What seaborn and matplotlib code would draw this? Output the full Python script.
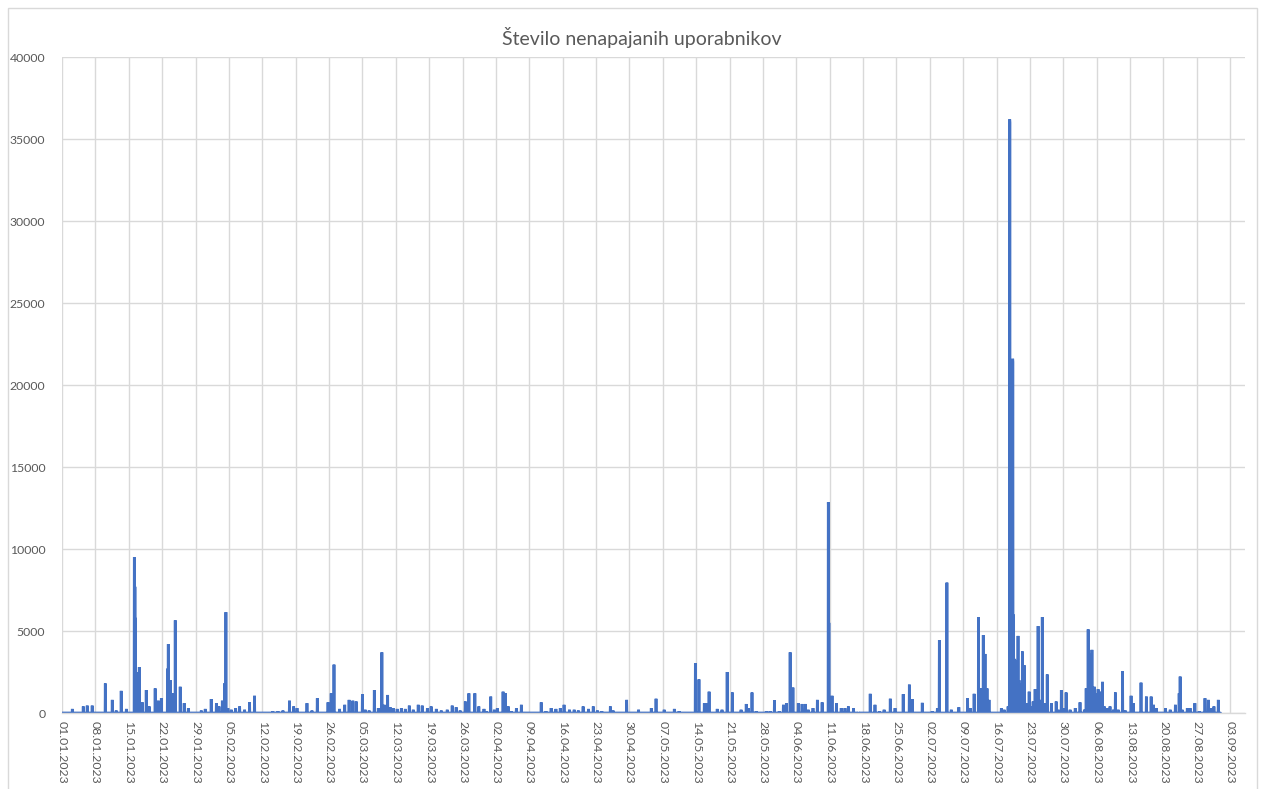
import matplotlib
matplotlib.use("Agg")
import matplotlib.pyplot as plt
import matplotlib.dates as mdates
from matplotlib.patches import Rectangle
import numpy as np
import pandas as pd
import seaborn as sns

# Hourly count of customers without power supply; hours not listed are zero.
event_times = [
    # January
    "2023-01-03 04", "2023-01-05 11", "2023-01-06 07", "2023-01-07 08", "2023-01-10 02",
    "2023-01-11 13", "2023-01-12 09", "2023-01-13 10", "2023-01-14 12",
    "2023-01-16 04", "2023-01-16 05", "2023-01-16 07", "2023-01-16 09", "2023-01-16 11",
    "2023-01-16 14", "2023-01-17 05", "2023-01-17 20", "2023-01-18 16", "2023-01-19 07",
    "2023-01-20 13", "2023-01-21 05", "2023-01-21 20", "2023-01-23 03", "2023-01-23 07",
    "2023-01-23 17", "2023-01-24 03", "2023-01-24 18", "2023-01-25 19", "2023-01-26 15",
    "2023-01-27 12", "2023-01-30 05", "2023-01-31 01",
    # February
    "2023-02-01 07", "2023-02-02 09", "2023-02-02 22", "2023-02-03 15", "2023-02-04 02",
    "2023-02-04 09", "2023-02-04 19", "2023-02-05 12", "2023-02-06 10", "2023-02-07 06",
    "2023-02-08 07", "2023-02-09 08", "2023-02-10 09", "2023-02-14 05", "2023-02-15 07",
    "2023-02-16 08", "2023-02-17 17", "2023-02-18 14", "2023-02-19 07", "2023-02-21 09",
    "2023-02-22 10", "2023-02-23 13", "2023-02-25 19", "2023-02-26 11", "2023-02-27 01",
    "2023-02-28 05",
    # March
    "2023-03-01 07", "2023-03-02 05", "2023-03-03 00", "2023-03-03 17", "2023-03-05 00",
    "2023-03-05 14", "2023-03-06 10", "2023-03-07 12", "2023-03-08 08", "2023-03-09 02",
    "2023-03-09 14", "2023-03-10 07", "2023-03-10 20", "2023-03-11 12", "2023-03-12 07",
    "2023-03-13 04", "2023-03-14 00", "2023-03-14 20", "2023-03-15 16", "2023-03-16 17",
    "2023-03-17 13", "2023-03-18 15", "2023-03-19 10", "2023-03-20 12", "2023-03-21 13",
    "2023-03-22 19", "2023-03-23 20", "2023-03-24 16", "2023-03-25 12", "2023-03-26 14",
    "2023-03-27 08", "2023-03-28 14", "2023-03-29 10", "2023-03-30 12", "2023-03-31 00",
    "2023-03-31 22",
    # April
    "2023-04-01 16", "2023-04-02 07", "2023-04-03 12", "2023-04-04 00", "2023-04-04 14",
    "2023-04-05 05", "2023-04-06 07", "2023-04-07 08", "2023-04-11 12", "2023-04-12 12",
    "2023-04-13 14", "2023-04-14 14", "2023-04-15 12", "2023-04-16 07", "2023-04-17 10",
    "2023-04-18 10", "2023-04-19 07", "2023-04-20 07", "2023-04-21 10", "2023-04-22 10",
    "2023-04-23 07", "2023-04-24 05", "2023-04-26 00", "2023-04-26 14", "2023-04-29 10",
    # May
    "2023-05-01 22", "2023-05-04 14", "2023-05-05 14", "2023-05-07 07", "2023-05-09 10",
    "2023-05-10 10", "2023-05-13 20", "2023-05-14 14", "2023-05-15 17", "2023-05-16 02",
    "2023-05-16 17", "2023-05-18 10", "2023-05-19 10", "2023-05-20 12", "2023-05-21 14",
    "2023-05-23 10", "2023-05-24 12", "2023-05-24 22", "2023-05-25 17", "2023-05-26 14",
    "2023-05-28 17", "2023-05-29 12", "2023-05-30 10", "2023-05-31 10",
    # June
    "2023-06-01 07", "2023-06-01 22", "2023-06-02 17", "2023-06-03 07", "2023-06-04 10",
    "2023-06-05 05", "2023-06-05 22", "2023-06-06 12", "2023-06-07 12", "2023-06-08 10",
    "2023-06-09 10", "2023-06-10 17", "2023-06-10 18", "2023-06-10 20", "2023-06-11 12",
    "2023-06-12 10", "2023-06-13 10", "2023-06-14 05", "2023-06-14 22", "2023-06-16 00",
    "2023-06-17 00", "2023-06-19 12", "2023-06-20 12", "2023-06-21 10", "2023-06-22 10",
    "2023-06-23 17", "2023-06-24 17", "2023-06-26 10", "2023-06-27 17", "2023-06-28 07",
    "2023-06-30 10",
    # July
    "2023-07-02 12", "2023-07-03 14", "2023-07-04 00", "2023-07-05 14", "2023-07-06 12",
    "2023-07-08 02", "2023-07-09 22", "2023-07-10 12", "2023-07-11 07", "2023-07-12 05",
    "2023-07-12 14", "2023-07-13 05", "2023-07-13 14", "2023-07-14 00", "2023-07-14 10",
    "2023-07-17 00", "2023-07-17 14", "2023-07-18 10", "2023-07-18 17", "2023-07-18 18",
    "2023-07-18 19", "2023-07-18 21", "2023-07-18 22", "2023-07-19 00", "2023-07-19 03",
    "2023-07-19 06", "2023-07-19 09", "2023-07-19 10", "2023-07-19 12", "2023-07-19 14",
    "2023-07-19 16", "2023-07-19 19", "2023-07-19 22", "2023-07-20 01", "2023-07-20 04",
    "2023-07-20 07", "2023-07-20 12", "2023-07-20 17", "2023-07-20 19", "2023-07-21 00",
    "2023-07-21 10", "2023-07-21 15", "2023-07-21 20", "2023-07-22 05", "2023-07-22 20",
    "2023-07-23 05", "2023-07-23 16", "2023-07-24 02", "2023-07-24 17", "2023-07-25 03",
    "2023-07-25 14", "2023-07-26 00", "2023-07-26 15", "2023-07-27 12", "2023-07-28 12",
    "2023-07-28 22", "2023-07-29 14", "2023-07-30 00", "2023-07-30 14", "2023-07-31 10",
    # August
    "2023-08-01 12", "2023-08-02 12", "2023-08-03 10", "2023-08-03 19", "2023-08-04 05",
    "2023-08-04 12", "2023-08-04 17", "2023-08-04 19", "2023-08-05 00", "2023-08-05 12",
    "2023-08-05 22", "2023-08-06 07", "2023-08-06 17", "2023-08-07 05", "2023-08-07 14",
    "2023-08-08 05", "2023-08-08 19", "2023-08-09 12", "2023-08-09 22", "2023-08-10 12",
    "2023-08-11 10", "2023-08-12 00", "2023-08-13 05", "2023-08-13 17", "2023-08-15 07",
    "2023-08-16 10", "2023-08-17 10", "2023-08-17 22", "2023-08-18 12", "2023-08-20 10",
    "2023-08-21 10", "2023-08-22 12", "2023-08-23 07", "2023-08-23 12", "2023-08-23 22",
    "2023-08-25 00", "2023-08-25 14", "2023-08-26 14", "2023-08-27 12", "2023-08-28 17",
    "2023-08-29 10", "2023-08-30 00", "2023-08-30 14", "2023-08-31 12",
]

event_values = [
    # January
    250, 400, 450, 450, 1800,
    800, 150, 1350, 250,
    9500, 9400, 7700, 5800, 1000,
    2500, 2800, 650, 1400, 400,
    1500, 750, 900, 2700, 4200,
    2000, 1200, 5650, 1600, 600,
    300, 150, 250,
    # February
    850, 600, 400, 750, 1800,
    6150, 300, 200, 300, 400,
    200, 650, 1050, 100, 100,
    150, 750, 400, 300, 600,
    150, 900, 650, 1200, 2950,
    250,
    # March
    500, 800, 750, 700, 1150,
    200, 150, 1400, 300, 3700,
    500, 1100, 350, 300, 250,
    300, 250, 450, 200, 500,
    450, 300, 400, 250, 150,
    200, 450, 350, 150, 700,
    1200, 1200, 400, 250, 100,
    1000,
    # April
    200, 300, 1300, 1200, 400,
    100, 300, 500, 650, 100,
    300, 250, 300, 500, 200,
    200, 150, 400, 250, 400,
    150, 100, 400, 150, 800,
    # May
    200, 300, 870, 200, 250,
    100, 3030, 2050, 600, 600,
    1300, 250, 200, 2500, 1250,
    200, 550, 300, 1250, 100,
    100, 100, 780, 100,
    # June
    500, 600, 3700, 1550, 600,
    550, 550, 200, 300, 800,
    650, 12850, 12500, 5500, 1050,
    600, 300, 300, 400, 300,
    50, 1170, 500, 100, 200,
    870, 300, 1150, 1730, 850,
    620,
    # July
    100, 300, 4450, 7950, 200,
    350, 900, 300, 1170, 5830,
    1500, 4750, 3600, 1500, 800,
    300, 200, 400, 1500, 36200,
    36000, 8300, 18900, 12000, 8000,
    16000, 21600, 21400, 6000, 3200,
    2700, 3300, 2500, 3000, 2800,
    3200, 4700, 2000, 1800, 1200,
    3750, 1800, 2900, 600, 1300,
    400, 700, 1450, 5300, 800,
    5850, 600, 2350, 600, 700,
    200, 1400, 300, 1250, 200,
    # August
    300, 650, 200, 1500, 5100,
    3000, 3600, 2500, 3850, 1600,
    1200, 1450, 1300, 1900, 400,
    300, 400, 200, 1250, 200,
    2550, 150, 1050, 600, 1850,
    1000, 1000, 500, 300, 300,
    200, 500, 1200, 2220, 200,
    300, 300, 600, 100, 900,
    800, 300, 400, 800,
]

period_start = "2023-01-01 00:00"
period_end = "2023-08-31 23:00"
title_text = "Število nenapajanih uporabnikov"
y_ticks = [0, 5000, 10000, 15000, 20000, 25000, 30000, 35000, 40000]

hours = pd.date_range(period_start, period_end, freq="h")
series = pd.Series(0.0, index=hours)
stamps = pd.to_datetime(event_times, format="%Y-%m-%d %H")
series.loc[stamps] = event_values
df = pd.DataFrame({"cas": series.index, "uporabniki": series.values})

sns.set_theme(style="white")
plt.rcParams["font.family"] = ["Lato", "DejaVu Sans"]

W, H = 1265, 789
fig = plt.figure(figsize=(W / 100, H / 100), dpi=100)
ax = fig.add_axes([62 / W, 1 - 713 / H, (1245 - 62) / W, (713 - 57) / H])

sns.lineplot(data=df, x="cas", y="uporabniki", ax=ax, color="#4472C4",
             linewidth=2.0, estimator=None, solid_joinstyle="miter")

grid_c = "#d9d9d9"
week_ticks = pd.date_range("2023-01-01", "2023-09-03", freq="7D")
ax.set_xticks(week_ticks)
ax.xaxis.set_major_formatter(mdates.DateFormatter("%d.%m.%Y"))
ax.set_xlim(pd.Timestamp("2023-01-01"), pd.Timestamp("2023-01-01") + pd.Timedelta(days=248.1))
ax.set_ylim(0, 40000)
ax.set_yticks(y_ticks)
ax.set_yticklabels([str(v) for v in y_ticks])

ax.grid(True, color=grid_c, linewidth=1.0)
ax.set_axisbelow(True)
for side in ["top", "right", "left"]:
    ax.spines[side].set_visible(False)
ax.spines["bottom"].set_color(grid_c)
ax.spines["bottom"].set_linewidth(1.0)

ax.tick_params(axis="x", length=0, pad=6, labelsize=8.8, labelcolor="#595959",
               labelrotation=-90)
ax.tick_params(axis="y", length=0, pad=12, labelsize=8.8, labelcolor="#595959")
for lbl in ax.get_xticklabels():
    lbl.set_verticalalignment("top")
    lbl.set_horizontalalignment("center")

ax.set_xlabel("")
ax.set_ylabel("")
fig.text(642 / W, 1 - 38 / H, title_text, ha="center", va="center",
         fontsize=14, color="#595959")

fig.patches.append(Rectangle((8 / W, -0.02), (1257 - 8) / W, 1.02 - 8 / H,
                             transform=fig.transFigure, fill=False,
                             edgecolor=grid_c, linewidth=1.0))

fig.savefig("out.png", dpi=100, facecolor="white")
